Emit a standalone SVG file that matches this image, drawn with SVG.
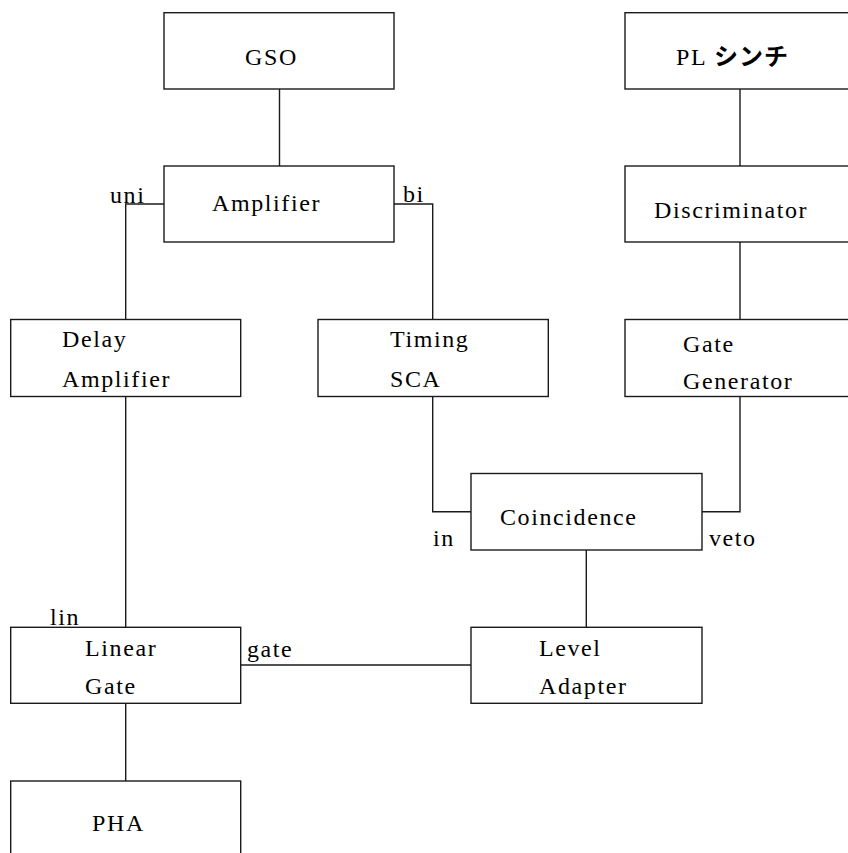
<svg xmlns="http://www.w3.org/2000/svg" width="848" height="853" viewBox="0 0 848 853">
<style>
rect.b{fill:none;stroke:#1a1a1a;stroke-width:1.4}
#connectors path{fill:none;stroke:#1a1a1a;stroke-width:1.4}
.t{font-family:'Liberation Serif','DejaVu Serif',serif;font-size:24px;letter-spacing:1.6px;fill:#000}
.jp{font-family:'Noto Sans CJK JP','Noto Sans CJK SC',sans-serif;font-weight:bold;letter-spacing:1px}
</style>
<rect width="848" height="853" fill="#fff"/>
<g id="connectors">
<path d="M279.5 89V166"/>
<path d="M164 204H125.7V319.5"/>
<path d="M394 204H432.7V319.5"/>
<path d="M740 89V166"/>
<path d="M740 242V319.5"/>
<path d="M125.7 396.5V627.3"/>
<path d="M432.7 396.5V511.7H471"/>
<path d="M740 396.5V511.7H702"/>
<path d="M586.3 550V627.3"/>
<path d="M240.7 665H471"/>
<path d="M125.7 703.3V781"/>
</g>
<g class="t" font-family="Liberation Serif, serif">
<g id="gso"><rect class="b" x="164" y="12.7" width="230" height="76.3"/><text x="245" y="65">GSO</text></g>
<g id="pl"><rect class="b" x="625" y="12.7" width="240" height="76.3"/><text x="676" y="65">PL <tspan class="jp">シンチ</tspan></text></g>
<g id="amplifier"><rect class="b" x="164" y="166" width="230" height="76"/><text x="212" y="211">Amplifier</text></g>
<g id="discriminator"><rect class="b" x="625" y="166" width="240" height="76"/><text x="654" y="218">Discriminator</text></g>
<g id="delay"><rect class="b" x="10.7" y="319.5" width="230" height="77"/><text x="62" y="347">Delay</text><text x="62" y="387">Amplifier</text></g>
<g id="timing"><rect class="b" x="318" y="319.5" width="230.3" height="77"/><text x="390" y="347">Timing</text><text x="390" y="387">SCA</text></g>
<g id="gategen"><rect class="b" x="625" y="319.5" width="240" height="77"/><text x="683" y="352">Gate</text><text x="683" y="389">Generator</text></g>
<g id="coincidence"><rect class="b" x="471" y="473.5" width="231" height="76.5"/><text x="500" y="525">Coincidence</text></g>
<g id="lineargate"><rect class="b" x="10.7" y="627.3" width="230" height="76"/><text x="85" y="656">Linear</text><text x="85" y="694">Gate</text></g>
<g id="leveladapter"><rect class="b" x="471" y="627.3" width="231" height="76"/><text x="539" y="656">Level</text><text x="539" y="694">Adapter</text></g>
<g id="pha"><rect class="b" x="10.7" y="781" width="230" height="90"/><text x="92" y="831">PHA</text></g>
<g id="labels">
<text x="110" y="203">uni</text>
<text x="403" y="202">bi</text>
<text x="433" y="546">in</text>
<text x="709" y="546">veto</text>
<text x="50" y="625">lin</text>
<text x="247" y="657">gate</text>
</g>
</g>
</svg>
